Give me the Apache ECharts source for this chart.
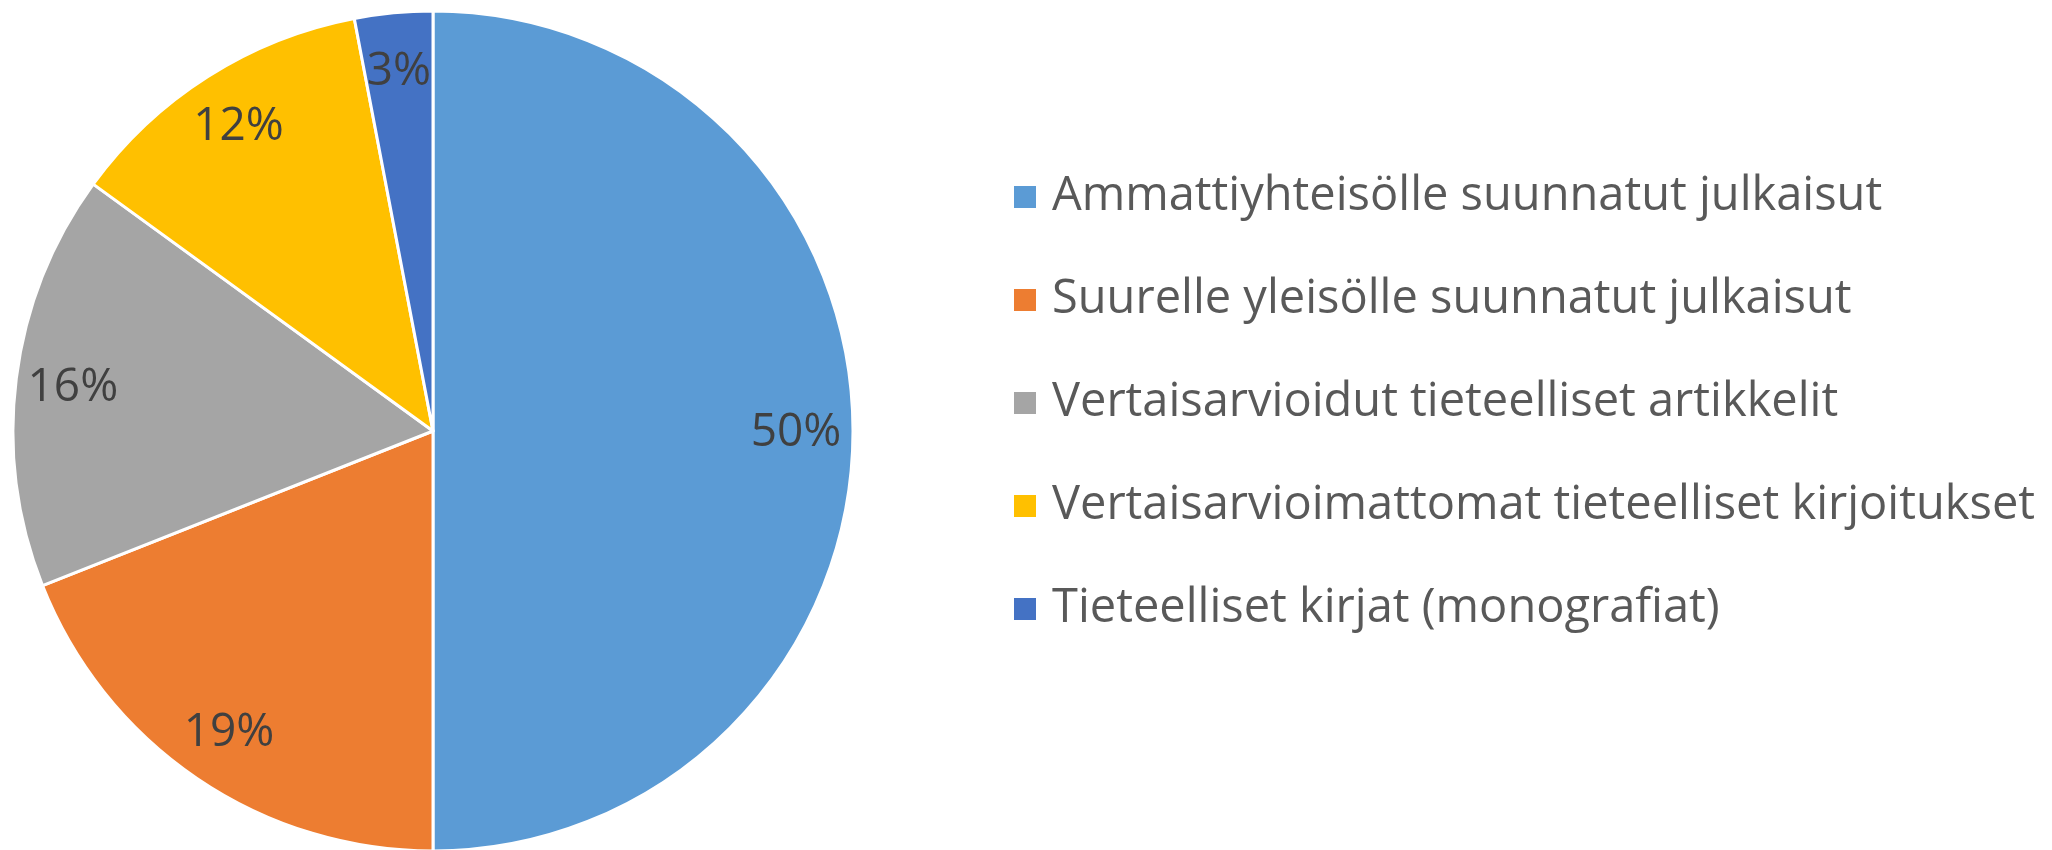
<!DOCTYPE html>
<html>
<head>
<meta charset="utf-8">
<script src="https://cdn.jsdelivr.net/npm/echarts@6/dist/echarts.min.js"></script>
<style>
  html, body { margin: 0; padding: 0; background: #fff; }
  #chart { width: 2052px; height: 850px; }
</style>
</head>
<body>
<div id="chart"></div>
<script>
const categories = [
  'Ammattiyhteisölle suunnatut julkaisut',
  'Suurelle yleisölle suunnatut julkaisut',
  'Vertaisarvioidut tieteelliset artikkelit',
  'Vertaisarvioimattomat tieteelliset kirjoitukset',
  'Tieteelliset kirjat (monografiat)'
]
const shares = [50, 19, 16, 12, 3]
const colors = ['#5B9BD5', '#ED7D31', '#A5A5A5', '#FFC000', '#4472C4']

const fontFamily = 'Open Sans'
const pieData = categories.map((name, i) => ({ name: name, value: shares[i] }))

const chart = echarts.init(document.getElementById('chart'))
const option = {
  color: colors,
  animation: false,
  legend: {
    orient: 'vertical',
    left: 1007,
    top: 167,
    itemWidth: 24,
    itemHeight: 24,
    itemGap: 53,
    icon: 'rect',
    data: categories,
    textStyle: {
      fontFamily: fontFamily,
      fontSize: 47,
      lineHeight: 50,
      color: '#595959',
      padding: [0, 0, 0, 10]
    }
  },
  series: [
    {
      name: 'julkaisut',
      type: 'pie',
      center: [433, 431],
      radius: 420,
      startAngle: 90,
      clockwise: true,
      itemStyle: { borderColor: '#fff', borderWidth: 3 },
      label: { show: false },
      labelLine: { show: false },
      emphasis: { disabled: true },
      data: pieData
    },
    {
      // label ring only, places percentages at ~0.86 of the radius
      name: 'labels',
      type: 'pie',
      silent: true,
      center: [433, 433],
      radius: [300, 420],
      startAngle: 90,
      clockwise: true,
      itemStyle: { color: 'transparent' },
      label: {
        show: true,
        position: 'inside',
        rotate: 0,
        formatter: '{c}%',
        fontFamily: fontFamily,
        fontSize: 46,
        color: '#404040'
      },
      labelLine: { show: false },
      emphasis: { disabled: true },
      data: pieData
    }
  ]
}
chart.setOption(option)
</script>
</body>
</html>
